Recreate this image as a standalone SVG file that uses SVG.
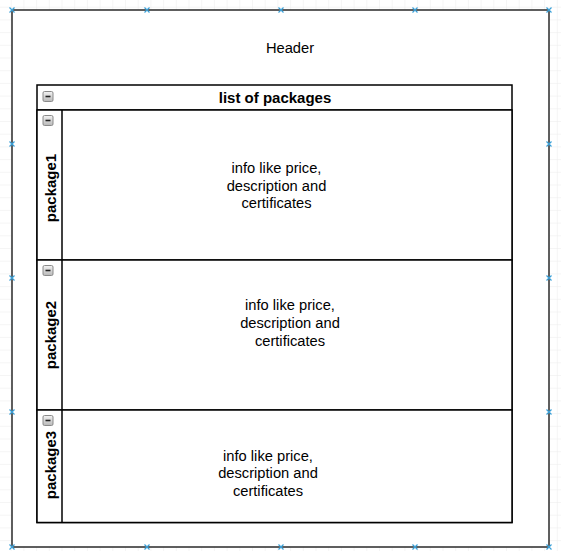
<svg xmlns="http://www.w3.org/2000/svg" width="561" height="551" viewBox="0 0 561 551">
  <style>
    .t{font-family:"Liberation Sans",Arial,sans-serif;font-size:14.7px;fill:#000;text-anchor:middle}
    .b{font-weight:bold;font-size:15px}
    .box{fill:#fff;stroke:#000;stroke-width:1.5}
    .mk{stroke:#3aa0d8;stroke-width:1.2;fill:none}
  </style>
  <defs>
    <pattern id="g" width="12.7" height="12.7" patternUnits="userSpaceOnUse" x="-1" y="-5">
      <path d="M12.7 0V12.7H0" fill="none" stroke="#ebebeb" stroke-width="1"/>
    </pattern>
    <linearGradient id="ig" x1="0" y1="0" x2="0" y2="1">
      <stop offset="0" stop-color="#f4f4f4"/>
      <stop offset="1" stop-color="#b8b8b8"/>
    </linearGradient>
    <g id="col">
      <rect x="0.5" y="0.5" width="10" height="10" rx="1.5" fill="url(#ig)" stroke="#8a8a8a" stroke-width="1"/>
      <path d="M3 5.5H8" stroke="#222" stroke-width="1.6"/>
    </g>
    <path id="x" d="M-2.5 -2.5L2.5 2.5M-2.5 2.5L2.5 -2.5" class="mk"/>
  </defs>
  <rect width="561" height="551" fill="#fff"/>
  <rect width="561" height="551" fill="url(#g)"/>

  <g id="container">
    <rect x="12" y="10" width="537" height="537" fill="#fff" stroke="#2a2a2a" stroke-width="1.5"/>
    <text class="t" x="290" y="53">Header</text>
  </g>

  <g id="table">
    <rect class="box" x="37" y="85" width="475" height="437.5"/>
    <line x1="37" y1="110" x2="512" y2="110" stroke="#000" stroke-width="1.5"/>
    <use href="#col" x="42.5" y="91"/>
    <text class="t b" x="275" y="103">list of packages</text>
  </g>

  <g id="package1">
    <rect class="box" x="37" y="110" width="475" height="150"/>
    <line x1="62" y1="110" x2="62" y2="260" stroke="#000" stroke-width="1.5"/>
    <use href="#col" x="42.5" y="115"/>
    <text class="t b" transform="translate(55.5,188) rotate(-90)">package1</text>
    <text class="t" x="276.5" y="173">info like price,</text>
    <text class="t" x="276.5" y="191">description and</text>
    <text class="t" x="276.5" y="208">certificates</text>
  </g>

  <g id="package2">
    <rect class="box" x="37" y="260" width="475" height="150"/>
    <line x1="62" y1="260" x2="62" y2="410" stroke="#000" stroke-width="1.5"/>
    <use href="#col" x="42.5" y="265"/>
    <text class="t b" transform="translate(55.5,335) rotate(-90)">package2</text>
    <text class="t" x="290" y="310">info like price,</text>
    <text class="t" x="290" y="328">description and</text>
    <text class="t" x="290" y="346">certificates</text>
  </g>

  <g id="package3">
    <rect class="box" x="37" y="410" width="475" height="112.5"/>
    <line x1="62" y1="410" x2="62" y2="522.5" stroke="#000" stroke-width="1.5"/>
    <use href="#col" x="42.5" y="415"/>
    <text class="t b" transform="translate(55.5,465) rotate(-90)">package3</text>
    <text class="t" x="268" y="461">info like price,</text>
    <text class="t" x="268" y="478">description and</text>
    <text class="t" x="268" y="496">certificates</text>
  </g>

  <g id="connectors"></g>

  <g id="markers">
    <use href="#x" x="12" y="10"/><use href="#x" x="147" y="10"/><use href="#x" x="281" y="10"/><use href="#x" x="415" y="10"/><use href="#x" x="549" y="10"/>
    <use href="#x" x="12" y="547"/><use href="#x" x="147" y="547"/><use href="#x" x="281" y="547"/><use href="#x" x="415" y="547"/><use href="#x" x="549" y="547"/>
    <use href="#x" x="12" y="144"/><use href="#x" x="12" y="278"/><use href="#x" x="12" y="412"/>
    <use href="#x" x="549" y="144"/><use href="#x" x="549" y="278"/><use href="#x" x="549" y="412"/>
  </g>
</svg>
